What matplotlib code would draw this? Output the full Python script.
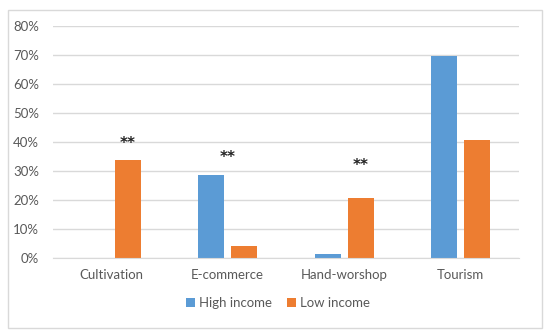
import numpy as np
import matplotlib.pyplot as plt
from matplotlib.patches import Rectangle

categories = ["Cultivation", "E-commerce", "Hand-worshop", "Tourism"]
high_income = [0.0, 28.6, 1.4, 69.6]
low_income = [34.0, 4.1, 20.9, 40.8]
# significance marks: (category index, offset, height in %)
stars = [(0, 0.14, 39.6), (1, 0.0, 34.6), (2, 0.14, 32.0)]

blue = "#5B9BD5"
orange = "#ED7D31"
grey_txt = "#595959"

plt.rcParams["font.family"] = ["Lato", "DejaVu Sans"]

fig = plt.figure(figsize=(5.5, 3.36), dpi=100)
ax = fig.add_axes([0.0964, 0.2313, 0.847, 0.6904])

x = np.arange(len(categories))
w = 0.223
off = 0.1416
ax.bar(x - off, high_income, w, color=blue, label="High income", zorder=3)
ax.bar(x + off, low_income, w, color=orange, label="Low income", zorder=3)

for i, d, h in stars:
    ax.text(i + d, h, "**", ha="center", va="center", fontsize=11,
            color="#222222", family="DejaVu Sans", fontweight="bold")

ax.set_xlim(-0.5, len(categories) - 0.5)
ax.set_ylim(0, 80)
ax.set_yticks(range(0, 81, 10))
ax.set_yticklabels([f"{v}%" for v in range(0, 81, 10)])
ax.set_xticks(x)
ax.set_xticklabels(categories)
ax.tick_params(axis="both", length=0, colors=grey_txt, labelsize=9.5)
ax.tick_params(axis="y", pad=10)
ax.tick_params(axis="x", pad=8)
ax.grid(axis="y", color="#D9D9D9", linewidth=1, zorder=0)
for s in ["top", "right", "left"]:
    ax.spines[s].set_visible(False)
ax.spines["bottom"].set_color("#D9D9D9")
ax.spines["bottom"].set_zorder(4)

fig.legend(loc="center", bbox_to_anchor=(0.505, 0.098), ncol=2, frameon=False,
           fontsize=9.5, handlelength=0.7, handleheight=0.7, handletextpad=0.3,
           columnspacing=1.1, labelcolor=grey_txt)

fig.patches.append(Rectangle((0.015, 0.024), 0.97, 0.946, transform=fig.transFigure,
                             fill=False, edgecolor="#D9D9D9", linewidth=1))

fig.savefig("out.png", dpi=100)
